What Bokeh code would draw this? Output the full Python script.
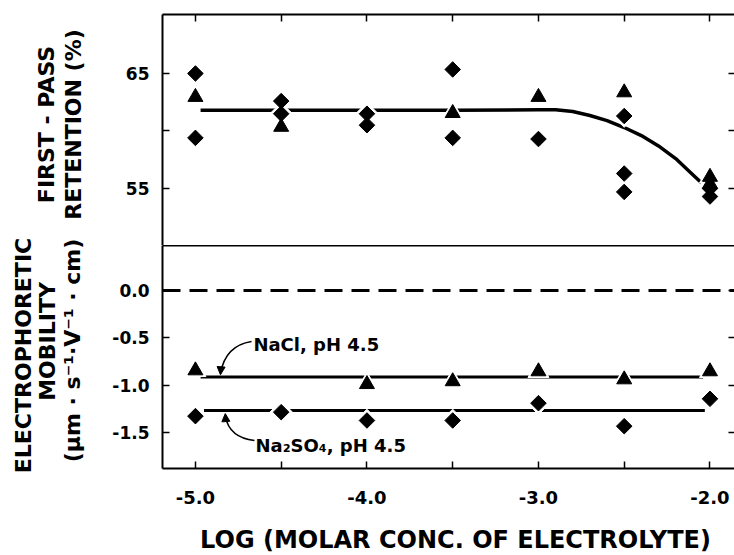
import math
from bokeh.plotting import figure
from bokeh.layouts import column, row
from bokeh.models import Range1d, LinearAxis, FixedTicker, Span, Label, Arrow, NormalHead
from bokeh.embed import file_html
from bokeh.resources import INLINE

# ---------------- data ----------------
# upper panel: first-pass retention (%)
ret_dia_x = [-5.0, -5.0, -4.5, -4.5, -4.0, -4.0, -3.5, -3.5, -3.0, -2.5, -2.5, -2.5, -2.0, -2.0]
ret_dia_y = [65.0, 59.4, 62.6, 61.5, 61.5, 60.5, 65.35, 59.4, 59.3, 61.3, 56.3, 54.7, 55.0, 54.3]
ret_tri_x = [-5.0, -4.5, -3.5, -3.0, -2.5, -2.0, -2.0]
ret_tri_y = [62.95, 60.35, 61.55, 62.95, 63.35, 56.0, 55.4]
ret_fit_x = [-4.97, -4.5, -4.0, -3.5, -3.0, -2.9, -2.8, -2.7, -2.6, -2.5, -2.4, -2.3, -2.2, -2.1, -2.05]
ret_fit_y = [61.8, 61.8, 61.8, 61.8, 61.85, 61.85, 61.7, 61.35, 60.9, 60.3, 59.6, 58.7, 57.6, 56.2, 55.5]

# lower panel: electrophoretic mobility
nacl_x = [-5.0, -4.0, -3.5, -3.0, -2.5, -2.0]
nacl_y = [-0.845, -0.99, -0.96, -0.855, -0.94, -0.855]
nacl_fit_x = [-4.97, -2.04]
nacl_fit_y = [-0.915, -0.915]
na2so4_x = [-5.0, -4.5, -4.0, -3.5, -3.0, -2.5, -2.0]
na2so4_y = [-1.327, -1.285, -1.373, -1.373, -1.19, -1.433, -1.144]
na2so4_fit_x = [-4.95, -2.03]
na2so4_fit_y = [-1.267, -1.267]

x_ticks = [-5.0, -4.5, -4.0, -3.5, -3.0, -2.5, -2.0]
x_tick_labels = ["-5.0", "", "-4.0", "", "-3.0", "", "-2.0"]
top_y_ticks = [55, 60, 65]
top_y_tick_labels = ["55", "", "65"]
bot_y_ticks = [0.0, -0.5, -1.0, -1.5]
bot_y_tick_labels = ["0.0", "-0.5", "-1.0", "-1.5"]

FONT = "DejaVu Sans"
LEFT_W = 100     # width of the strip that holds the vertical titles
FRAME_LEFT = 162  # page x of the plot frames' left edge

xr = Range1d(-5.192, -1.857)


def style_axis(ax, ticks, labels=None, line=True, font_size="17px", standoff=13, tick_in=7):
    ax.ticker = FixedTicker(ticks=ticks)
    ax.major_tick_in = tick_in
    ax.major_tick_out = 0
    ax.minor_tick_in = 0
    ax.minor_tick_out = 0
    ax.major_tick_line_width = 1.5
    ax.major_tick_line_color = "black"
    ax.axis_line_width = 2 if line else 0
    ax.axis_line_color = "black" if line else None
    if labels is None:
        ax.major_label_overrides = {t: "" for t in ticks}
        ax.major_label_text_font_size = "1px"
        ax.major_label_standoff = 0
    else:
        ax.major_label_overrides = {t: l for t, l in zip(ticks, labels)}
        ax.major_label_text_font = FONT
        ax.major_label_text_font_style = "bold"
        ax.major_label_text_font_size = font_size
        ax.major_label_text_color = "black"
        ax.major_label_standoff = standoff


def text_label(txt, x, y, size="22px", angle=math.pi / 2):
    return Label(x=x, y=y, text=txt, angle=angle, text_align="center", text_baseline="middle",
                 text_font=FONT, text_font_style="bold", text_font_size=size, text_color="black")


def blank_strip(width, height, x0, x1, y0, y1, border_left=0):
    f = figure(width=width, height=height, x_range=Range1d(x0, x1), y_range=Range1d(y1, y0),
               x_axis_location=None, y_axis_location=None, output_backend="svg",
               toolbar_location=None, min_border=0, min_border_left=border_left)
    f.outline_line_color = None
    f.grid.visible = False
    return f


# ---------------- title strip (page coordinates) ----------------
left = blank_strip(LEFT_W, 555, 0, LEFT_W, 0, 555)
left.add_layout(text_label("FIRST - PASS", 46, 124))
left.add_layout(text_label("RETENTION (%)", 72.5, 124))
left.add_layout(text_label("ELECTROPHORETIC", 23, 355))
left.add_layout(text_label("MOBILITY", 47, 341))
left.add_layout(text_label("(\u00b5m \u00b7 s\u207b\u00b9\u00b7V\u207b\u00b9 \u00b7 cm)", 72, 350))

# ---------------- top panel ----------------
p1 = figure(width=734 - LEFT_W, height=245, x_range=xr, y_range=Range1d(50.04, 70.13),
            x_axis_location="above", output_backend="svg", toolbar_location=None,
            min_border_left=FRAME_LEFT - LEFT_W, min_border_right=0, min_border_top=14,
            min_border_bottom=0)
p1.outline_line_color = None
p1.grid.visible = False
style_axis(p1.xaxis[0], x_ticks, None)
style_axis(p1.yaxis[0], top_y_ticks, top_y_tick_labels)
r1 = LinearAxis()
style_axis(r1, top_y_ticks, None, line=False, tick_in=6)
p1.add_layout(r1, "right")

p1.line(ret_fit_x, ret_fit_y, line_width=3.5, line_color="black")
p1.scatter(ret_dia_x, ret_dia_y, marker="square", angle=math.pi / 4, size=16,
           fill_color="white", line_color="white")
p1.scatter(ret_tri_x, ret_tri_y, marker="triangle", size=21, fill_color="white", line_color="white")
p1.scatter(ret_dia_x, ret_dia_y, marker="square", angle=math.pi / 4, size=11,
           fill_color="black", line_color="black")
p1.scatter(ret_tri_x, ret_tri_y, marker="triangle", size=15, fill_color="black", line_color="black")

# ---------------- bottom panel ----------------
p2 = figure(width=734 - LEFT_W, height=273, x_range=xr, y_range=Range1d(-1.88, 0.475),
            output_backend="svg", toolbar_location=None,
            min_border_left=FRAME_LEFT - LEFT_W, min_border_right=0, min_border_top=0,
            min_border_bottom=50)
p2.outline_line_color = None
p2.grid.visible = False
style_axis(p2.xaxis[0], x_ticks, x_tick_labels, font_size="18px", standoff=22)
style_axis(p2.yaxis[0], bot_y_ticks, bot_y_tick_labels)
r2 = LinearAxis()
style_axis(r2, bot_y_ticks, None, line=False, tick_in=6)
p2.add_layout(r2, "right")
t2 = LinearAxis()
style_axis(t2, [], None, line=True, tick_in=0)
p2.add_layout(t2, "above")

p2.add_layout(Span(location=0, dimension="width", line_color="black", line_width=3, line_dash="18 9"))

p2.line(nacl_fit_x, nacl_fit_y, line_width=3, line_color="black")
p2.line(na2so4_fit_x, na2so4_fit_y, line_width=3, line_color="black")
p2.scatter(na2so4_x, na2so4_y, marker="square", angle=math.pi / 4, size=16,
           fill_color="white", line_color="white")
p2.scatter(nacl_x, nacl_y, marker="triangle", size=21, fill_color="white", line_color="white")
p2.scatter(na2so4_x, na2so4_y, marker="square", angle=math.pi / 4, size=11,
           fill_color="black", line_color="black")
p2.scatter(nacl_x, nacl_y, marker="triangle", size=15, fill_color="black", line_color="black")

# annotations
p2.quadratic(x0=[-4.673], y0=[-0.539], x1=[-4.854], y1=[-0.876], cx=[-4.825], cy=[-0.581],
             line_color="black", line_width=1.5)
p2.add_layout(Arrow(x_start=-4.851, y_start=-0.82, x_end=-4.854, y_end=-0.89,
                    end=NormalHead(size=8, fill_color="black", line_color="black"),
                    line_width=1.5, line_color="black"))
p2.quadratic(x0=[-4.656], y0=[-1.584], x1=[-4.825], y1=[-1.331], cx=[-4.802], cy=[-1.552],
             line_color="black", line_width=1.5)
p2.add_layout(Arrow(x_start=-4.824, y_start=-1.35, x_end=-4.826, y_end=-1.30,
                    end=NormalHead(size=8, fill_color="black", line_color="black"),
                    line_width=1.5, line_color="black"))
p2.add_layout(Label(x=-4.662, y=-0.570, text="NaCl, pH 4.5", text_align="left", text_baseline="middle",
                    text_font=FONT, text_font_style="bold", text_font_size="18px",
                    text_color="black"))
p2.add_layout(Label(x=-4.650, y=-1.637, text="Na\u2082SO\u2084, pH 4.5", text_align="left",
                    text_baseline="middle", text_font=FONT, text_font_style="bold",
                    text_font_size="18px", text_color="black"))

# ---------------- x-axis title strip (page coordinates) ----------------
# its frame is aligned with the plot frames above it (page x 162 .. 734)
bottom = blank_strip(734 - LEFT_W, 555 - 518, FRAME_LEFT, 734, 518, 555,
                     border_left=FRAME_LEFT - LEFT_W)
bottom.add_layout(text_label("LOG (MOLAR CONC. OF ELECTROLYTE)", 455, 539, size="24px", angle=0))

layout = row(left, column(p1, p2, bottom, spacing=0), spacing=0)
open("out.html", "w").write(file_html(layout, INLINE))
